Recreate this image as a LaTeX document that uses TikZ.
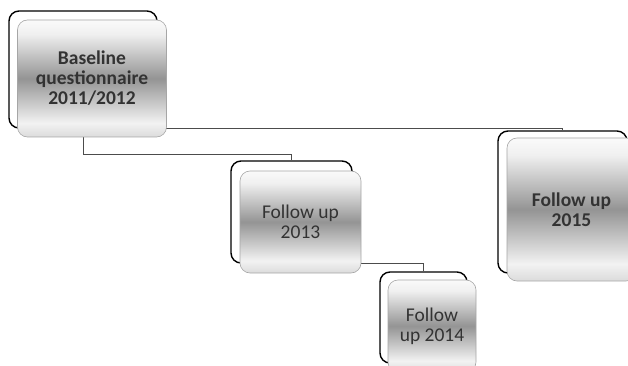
\documentclass[tikz,border=0pt]{standalone}
\usepackage{fontspec}
\setmainfont{Carlito}
\usepackage{tikz}
\pgfdeclareverticalshading{boxshade}{100bp}{color(0bp)=(black!14); color(25bp)=(black!14); color(31bp)=(black!5); color(50bp)=(black!42); color(69bp)=(black!6); color(75bp)=(black!2); color(100bp)=(black!2)}

\begin{document}
\begin{tikzpicture}[x=1pt,y=-1pt,
	backbox/.style={draw=black, fill=white, line width=1.4pt, rounded corners=10pt},
	frontbox/.style={draw=black!35, line width=0.6pt, rounded corners=10pt, shading=boxshade, align=center, text=black!80, font=\fontsize{19.5}{20}\selectfont},
	conn/.style={draw=black!70, line width=0.9pt}]
				\useasboundingbox (0,0) rectangle (628,366);
				\clip (0,0) rectangle (628,366);
				\node[backbox, minimum width=148pt, minimum height=117pt] (backA) at (83,69.5) {};
				\node[backbox, minimum width=121pt, minimum height=102pt] (backB) at (291.5,212) {};
				\node[backbox, minimum width=87pt, minimum height=91pt] (backC) at (423.5,317.5) {};
				\node[backbox, minimum width=129pt, minimum height=142pt] (backD) at (562.5,202) {};
				\draw[conn] (backA.south) -- ++(0,26) -| (backB.north);
				\draw[conn] (backA.south) -| (backD.north);
				\draw[conn] (backB.south) -| (backC.north);
				\node[frontbox, minimum width=149pt, minimum height=117pt] (frontA) at (92,78.5) {\textbf{Baseline}\\\textbf{questionnaire}\\\textbf{2011/2012}};
				\node[frontbox, minimum width=121pt, minimum height=102pt] (frontB) at (300.5,222) {Follow up\\2013};
				\node[frontbox, minimum width=88pt, minimum height=92pt] (frontC) at (432,326) {Follow\\up 2014};
				\node[frontbox, minimum width=129pt, minimum height=143pt] (frontD) at (571.5,209.5) {\textbf{Follow up}\\\textbf{2015}};
			\end{tikzpicture}
\end{document}
